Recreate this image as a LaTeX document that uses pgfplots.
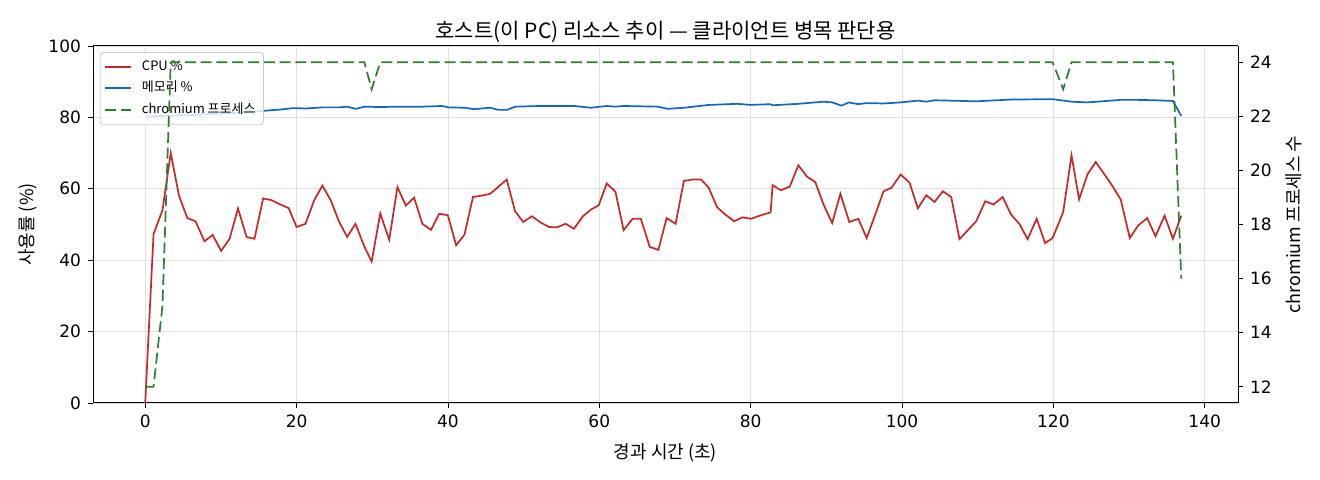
\documentclass[border=0pt]{standalone}
\usepackage{fontspec}
\setmainfont{Noto Sans CJK KR}
\newfontfamily\tickfont{DejaVu Sans}
\usepackage{pgfplots}
\pgfplotsset{compat=1.18}
\usepackage{pgfplotstable}

\definecolor{cpured}{HTML}{C62828}
\definecolor{memblue}{HTML}{1565C0}
\definecolor{chromgreen}{HTML}{2E7D32}
\definecolor{legedge}{HTML}{CCCCCC}

% host CPU %, sampled about every 1.1 s
\pgfplotstableread{
t cpu
0.0 0.0
1.10 47.3
2.28 54.0
3.37 70.0
4.46 58.1
5.56 51.8
6.65 50.9
7.83 45.3
8.92 47.1
10.03 42.6
11.15 46.0
12.26 54.5
13.39 46.5
14.44 46.0
15.58 57.3
16.72 56.8
17.85 55.6
18.95 54.6
20.00 49.3
21.18 50.2
22.31 56.7
23.41 60.9
24.54 56.7
25.59 50.9
26.69 46.5
27.78 50.2
28.96 43.8
29.92 39.6
31.06 53.1
32.24 45.7
33.33 60.5
34.43 55.3
35.53 57.5
36.62 50.2
37.76 48.5
38.85 53.0
39.99 52.6
41.08 44.2
42.18 47.1
43.31 57.7
44.49 58.1
45.59 58.6
46.68 60.6
47.77 62.6
48.87 53.7
49.96 50.7
51.10 52.3
52.23 50.6
53.33 49.3
54.42 49.2
55.56 50.2
56.65 48.8
57.83 52.3
58.92 54.2
59.93 55.4
60.98 61.5
62.13 59.2
63.22 48.4
64.40 51.6
65.49 51.6
66.67 43.7
67.81 42.9
68.90 51.8
70.08 50.2
71.18 62.2
72.27 62.6
73.45 62.6
74.46 60.3
75.55 54.9
76.64 52.8
77.82 50.9
78.92 52.0
80.05 51.6
81.23 52.5
82.64 53.4
82.90 61.0
83.99 59.6
85.17 60.6
86.30 66.6
87.45 63.4
88.54 61.9
89.63 55.6
90.77 50.4
91.86 58.6
93.04 50.7
94.23 51.6
95.33 46.2
96.42 52.5
97.56 59.3
98.61 60.3
99.83 64.0
101.0 61.7
102.1 54.5
103.2 58.2
104.3 56.3
105.4 59.3
106.5 57.7
107.6 45.9
108.7 48.4
109.8 50.9
111.0 56.5
112.1 55.6
113.3 57.7
114.4 52.8
115.5 50.2
116.6 45.9
117.8 51.6
118.9 44.8
119.9 46.2
121.3 53.5
122.4 69.4
123.4 57.0
124.5 64.0
125.6 67.5
126.7 64.2
127.8 60.8
128.9 57.0
130.1 46.2
131.2 49.7
132.4 51.8
133.5 46.7
134.7 52.5
135.8 46.0
136.9 52.5
}\cputable

% memory %
\pgfplotstableread{
t mem
0.0 80.2
2.3 80.4
5.6 80.6
8.9 81.0
12.3 81.3
15.4 81.8
17.9 82.2
19.5 82.6
21.2 82.5
23.5 82.8
25.6 82.8
26.7 83.0
27.8 82.4
29.0 83.0
31.1 82.9
33.3 83.0
36.6 83.0
39.2 83.2
40.1 82.8
42.2 82.7
43.4 82.3
45.6 82.7
46.7 82.1
47.8 82.1
48.9 83.0
52.2 83.2
56.7 83.2
58.9 82.7
61.0 83.2
62.1 83.0
63.2 83.2
67.8 83.0
69.0 82.4
71.2 82.7
74.5 83.5
78.2 83.8
80.0 83.5
82.6 83.7
82.9 83.4
86.3 83.8
89.6 84.4
90.8 84.2
92.0 83.3
93.0 84.2
94.2 83.7
95.3 84.0
97.6 83.9
99.8 84.2
102.1 84.7
103.2 84.4
104.3 84.8
109.8 84.5
114.4 85.0
119.9 85.1
122.4 84.4
124.5 84.2
128.9 84.9
131.2 84.9
133.5 84.8
135.8 84.6
136.9 80.4
}\memtable

% chromium process count
\pgfplotstableread{
t n
0.0 12
1.10 12
2.28 15
3.37 24
28.96 24
29.92 23
31.06 24
119.9 24
121.3 23
122.4 24
135.8 24
136.9 16
}\chromtable

\begin{document}
\begin{tikzpicture}
\useasboundingbox (-46.5pt,-38.5pt) rectangle (613.5pt,201.5pt);
\pgfplotsset{
  base/.style={
    scale only axis, width=572.5pt, height=178.5pt,
    at={(0,0)}, anchor=south west,
    xmin=-6.9, xmax=144.4,
    tick align=outside, major tick length=2.5pt,
    tick style={black, line width=0.4pt},
    axis line style={line width=0.5pt},
    /pgf/number format/assume math mode=true,
    ticklabel style={font=\tickfont\fontsize{8.5}{9}\selectfont},
    label style={font=\fontsize{9}{10}\selectfont},
  },
}
\begin{axis}[base,
  axis y line*=left,
  ymin=0, ymax=100,
  xtick={0,20,...,140}, ytick={0,20,...,100},
  xtick pos=lower,
  grid=major, grid style={black!12, line width=0.4pt},
  xlabel={경과 시간 (초)}, ylabel={사용률 (\%)},
  xlabel style={yshift=-1pt},
  ylabel style={yshift=-1pt},
  title={호스트(이 PC) 리소스 추이 — 클라이언트 병목 판단용},
  title style={font=\fontsize{10.5}{11}\selectfont, yshift=-8pt},
  legend style={at={(0.006,0.983)}, anchor=north west,
    draw=legedge, fill=white, fill opacity=0.8, text opacity=1,
    rounded corners=1.5pt, font=\fontsize{6.5}{7.5}\selectfont,
    row sep=0pt, inner sep=2pt,
    /tikz/every odd column/.append style={column sep=3pt}},
  legend cell align=left,
  legend image code/.code={\draw[#1] (0pt,0pt) -- (13pt,0pt);},
]
\addplot[cpured, line width=0.85pt] table[x=t, y=cpu] {\cputable};
\addlegendentry{CPU \%}
\addplot[memblue, line width=0.85pt] table[x=t, y=mem] {\memtable};
\addlegendentry{메모리 \%}
\addlegendimage{chromgreen, line width=0.85pt, dash pattern=on 5.5pt off 2.4pt}
\addlegendentry{chromium 프로세스}
\end{axis}
\begin{axis}[base,
  axis y line*=right, axis x line=none,
  ymin=11.4, ymax=24.6, ytick={12,14,...,24},
  ylabel={chromium 프로세스 수},
]
\addplot[chromgreen, line width=0.85pt, dash pattern=on 5.5pt off 2.4pt] table[x=t, y=n] {\chromtable};
\end{axis}
\end{tikzpicture}
\end{document}
